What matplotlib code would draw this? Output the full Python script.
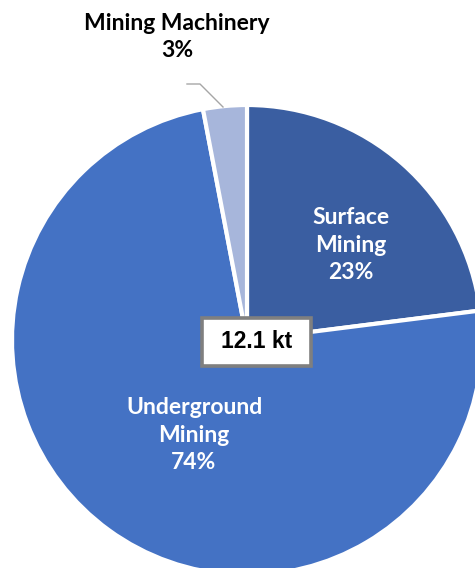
import matplotlib
matplotlib.use("Agg")
import matplotlib.pyplot as plt
from matplotlib.patches import Rectangle

categories = ["Surface\nMining", "Underground\nMining", "Mining Machinery"]
shares = [23, 74, 3]
total_label = "12.1 kt"
colors = ["#3A5EA1", "#4472C4", "#A7B6DB"]

W, H = 475, 568
fig = plt.figure(figsize=(W / 100, H / 100), dpi=100)
ax = fig.add_axes([0, 0, 1, 1])
ax.set_xlim(0, W)
ax.set_ylim(0, H)
ax.set_aspect("equal")
ax.axis("off")

cx, cy, r = 247, H - 340, 235
wedges, _ = ax.pie(shares, colors=colors, startangle=90, counterclock=False,
                   center=(cx, cy), radius=r, frame=True,
                   wedgeprops=dict(edgecolor="white", linewidth=3))
ax.set_xlim(0, W)
ax.set_ylim(0, H)
ax.axis("off")

font = "Lato"
fs = 16.5
ls = 1.38
ax.text(351, H - 245, f"{categories[0]}\n{shares[0]}%", ha="center", va="center",
        color="white", fontsize=fs, fontweight="bold", family=font, linespacing=ls)
ax.text(194, H - 435, f"{categories[1]}\n{shares[1]}%", ha="center", va="center",
        color="white", fontsize=fs, fontweight="bold", family=font, linespacing=ls)
ax.text(177, H - 37, f"{categories[2]}\n{shares[2]}%", ha="center", va="center",
        color="black", fontsize=fs, fontweight="bold", family=font, linespacing=ls)

ax.plot([187, 200, 223], [H - 84, H - 84, H - 107], color="#A6A6A6", lw=1)

ax.add_patch(Rectangle((202, H - 366), 109, 48, facecolor="white",
                       edgecolor="#7F7F7F", lw=2.6, zorder=5))
ax.text(256.5, H - 342, total_label, ha="center", va="center", color="black",
        fontsize=16.5, fontweight="bold", family="Liberation Sans", zorder=6)

fig.savefig("out.png", dpi=100)
